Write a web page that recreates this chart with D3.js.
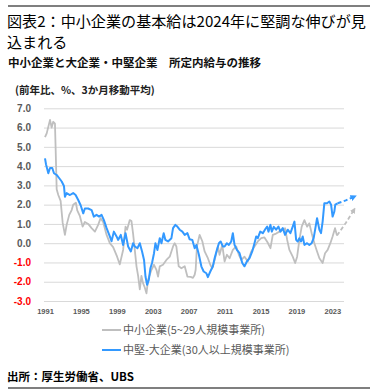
<!DOCTYPE html>
<html lang="ja">
<head>
  <meta charset="utf-8">
  <title>図表2</title>
  <script src="https://cdn.jsdelivr.net/npm/d3@7"></script>
  <style type="text/css">
    body{ margin:0; background:#fff; }
    text{ font-family: "Noto Sans CJK JP", "Noto Sans", sans-serif; }
    .tick text{ font-family: "Liberation Sans", Arial, sans-serif; font-weight: bold; }
  </style>
</head>
<body>
<script type="text/javascript">

// small firms (5-29 employees), yoy %, 3 month moving average
var smallYears = [1991.0,1991.19,1991.56,1991.74,1991.92,1992.11,1992.19,1992.30,1992.48,1992.74,1992.97,1993.22,1993.41,1993.70,1993.97,1994.14,1994.44,1994.59,1994.89,1995.19,1995.44,1995.81,1996.19,1996.56,1996.92,1997.19,1997.48,1997.86,1998.22,1998.59,1999.03,1999.33,1999.70,1999.97,2000.14,2000.44,2000.63,2000.81,2001.0,2001.19,2001.37,2001.56,2001.74,2001.92,2002.11,2002.30,2002.48,2002.86,2003.14,2003.41,2003.59,2003.78,2004.14,2004.52,2004.89,2005.26,2005.44,2005.63,2005.89,2006.19,2006.56,2006.86,2007.22,2007.48,2007.67,2007.78,2007.92,2008.22,2008.52,2008.78,2009.14,2009.41,2009.63,2009.89,2010.26,2010.44,2010.74,2011.0,2011.26,2011.56,2011.92,2012.30,2012.59,2012.86,2013.22,2013.59,2013.97,2014.33,2014.70,2015.08,2015.44,2015.78,2016.11,2016.37,2016.74,2017.11,2017.48,2017.74,2017.97,2018.22,2018.59,2018.86,2019.08,2019.33,2019.59,2019.89,2020.19,2020.44,2020.70,2021.0,2021.30,2021.56,2021.92,2022.19,2022.48,2022.78,2023.03,2023.30,2023.52];
var smallValues = [5.5,5.7,6.4,6.0,6.3,6.2,4.8,2.8,2.5,2.2,1.05,0.43,0.95,1.47,1.72,2.0,2.1,1.7,1.4,0.86,1.1,1.0,0.78,0.6,0.95,1.3,1.1,0.43,0.0,-0.2,-0.7,-1.1,-0.35,0.86,0.7,1.2,1.15,0.5,-0.35,-1.2,-1.7,-2.4,-1.7,-2.07,-2.3,-2.6,-1.9,-1.38,-1.12,-1.38,-1.73,-1.2,-1.12,-0.87,-0.7,-0.17,0.0,-0.17,-1.2,-1.3,-1.2,-1.73,-1.75,-1.8,-1.64,-1.38,-0.17,0.43,0.1,-0.43,-0.78,-1.12,-1.3,-0.87,-0.17,-0.6,-0.09,-0.95,-0.6,-0.78,-0.35,-0.17,-0.6,-0.87,-0.7,-0.95,-0.43,-0.17,0.09,0.26,0.3,0.05,-0.26,0.43,0.5,0.6,0.7,0.78,0.17,-0.35,-0.7,-1.03,-0.7,0.17,0.86,1.2,0.86,1.03,0.52,0.0,-0.43,-0.78,-1.03,-0.52,-0.35,0.0,0.35,0.78,0.4];
var smallForecastYears = [2023.52, 2024.5, 2025.4];
var smallForecastValues = [0.4, 1.05, 1.72];

// mid/large firms (30+ employees)
var largeYears = [1991.0,1991.11,1991.37,1991.56,1991.81,1992.0,1992.30,1992.59,1992.86,1993.11,1993.22,1993.41,1993.78,1994.14,1994.41,1994.70,1994.97,1995.26,1995.44,1995.81,1996.19,1996.44,1996.74,1997.03,1997.30,1997.56,1997.86,1998.22,1998.41,1998.67,1998.97,1999.14,1999.44,1999.70,1999.97,2000.26,2000.56,2000.81,2001.0,2001.30,2001.56,2001.81,2002.03,2002.19,2002.37,2002.56,2002.74,2002.92,2003.14,2003.30,2003.52,2003.78,2003.97,2004.22,2004.41,2004.70,2005.08,2005.26,2005.52,2005.74,2006.0,2006.30,2006.56,2006.86,2007.11,2007.41,2007.67,2007.86,2008.14,2008.41,2008.67,2008.97,2009.14,2009.41,2009.70,2009.89,2010.14,2010.37,2010.56,2010.81,2011.0,2011.26,2011.48,2011.74,2011.92,2012.11,2012.37,2012.67,2012.97,2013.22,2013.48,2013.78,2014.08,2014.33,2014.52,2014.70,2014.97,2015.26,2015.56,2015.74,2015.89,2016.11,2016.26,2016.48,2016.74,2017.0,2017.22,2017.48,2017.74,2018.03,2018.33,2018.59,2018.78,2018.97,2019.14,2019.33,2019.52,2019.70,2019.89,2020.19,2020.44,2020.70,2020.92,2021.08,2021.30,2021.56,2021.74,2021.92,2022.11,2022.41,2022.67,2022.86,2023.03,2023.22,2023.33,2023.59];
var largeValues = [4.4,4.1,3.63,3.9,3.9,3.63,3.54,3.37,3.2,2.97,2.41,2.6,2.5,2.6,2.5,2.24,1.97,1.55,1.8,1.8,1.72,1.38,1.47,1.38,1.47,1.2,0.78,0.35,0.1,0.6,0.35,0.17,0.43,-0.09,0.52,-0.17,-0.43,0.0,-0.17,-0.26,0.0,-0.43,-0.87,-1.73,-2.16,-1.9,-1.3,-1.03,-0.52,0.0,-0.35,0.26,0.0,0.52,0.17,0.09,0.26,0.78,0.95,0.86,0.7,0.6,0.43,0.52,0.2,0.17,-0.26,-0.09,-0.6,-1.2,-1.47,-1.56,-1.76,-1.47,-1.2,-0.78,-0.35,0.0,0.09,-0.17,-0.17,0.0,-0.09,0.09,0.52,-0.09,-0.35,-0.52,-1.03,-1.2,-0.95,-0.78,-0.43,0.0,0.35,0.26,0.6,0.52,0.75,0.86,0.6,0.95,0.6,0.85,0.7,0.86,0.6,0.78,0.43,0.7,0.52,0.86,1.12,0.17,0.09,0.26,0.09,0.35,-0.09,0.0,-0.09,0.0,0.26,0.69,1.3,0.69,0.52,1.12,2.07,2.07,2.16,2.0,1.38,1.64,2.0,2.07];
var largeForecastYears = [2023.59, 2024.5, 2025.4];
var largeForecastValues = [2.07, 2.22, 2.41];

var yTicks = [-3, -2, -1, 0, 1, 2, 3, 4, 5, 6, 7];
var xTicks = [1991, 1995, 1999, 2003, 2007, 2011, 2015, 2019, 2023];
var legendLabels = ["中小企業(5~29人規模事業所)", "中堅-大企業(30人以上規模事業所)"];

var width = 380;
var height = 392;

var svg = d3.select("body")
    .append("svg")
    .attr("width", width)
    .attr("height", height);

// rules + titles
svg.append("line").attr("x1", 8).attr("x2", 370).attr("y1", 6).attr("y2", 6)
    .attr("stroke", "#000").attr("stroke-width", 1.2);
svg.append("line").attr("x1", 8).attr("x2", 370).attr("y1", 388).attr("y2", 388)
    .attr("stroke", "#000").attr("stroke-width", 1.2);

svg.append("text").attr("x", 7).attr("y", 27)
    .attr("font-size", 15.1).attr("fill", "#000")
    .text("図表2：中小企業の基本給は2024年に堅調な伸びが見");
svg.append("text").attr("x", 7).attr("y", 48)
    .attr("font-size", 15.1).attr("fill", "#000")
    .text("込まれる");
svg.append("text").attr("x", 8).attr("y", 67)
    .attr("font-size", 11.5).attr("font-weight", "bold").attr("fill", "#111")
    .text("中小企業と大企業・中堅企業　所定内給与の推移");
svg.append("text").attr("x", 15).attr("y", 94)
    .attr("font-size", 10.5).attr("font-weight", "bold").attr("fill", "#222")
    .text("(前年比、%、3か月移動平均)");

var xScale = d3.scaleLinear().domain([1991, 2024.3]).range([45, 344]);
var yScale = d3.scaleLinear().domain([-3, 7]).range([301, 108.3]);

// y axis with gridlines
var yAxis = svg.append("g")
    .attr("transform", "translate(44,0)")
    .call(d3.axisLeft(yScale)
        .tickValues(yTicks)
        .tickSize(-300)
        .tickPadding(13)
        .tickFormat(function(d){ return d.toFixed(1); }));
yAxis.select(".domain").remove();
yAxis.selectAll(".tick line").attr("stroke", "#d9d9d9").attr("stroke-width", 1);
yAxis.selectAll(".tick text")
    .attr("font-size", 10)
    .attr("fill", function(d){ return d < 0 ? "#ff0000" : "#595959"; });

var xAxis = svg.append("g")
    .attr("transform", "translate(0,301)")
    .call(d3.axisBottom(xScale)
        .tickValues(xTicks)
        .tickSize(0)
        .tickPadding(8)
        .tickFormat(d3.format("d")));
xAxis.select(".domain").remove();
xAxis.selectAll(".tick text").attr("font-size", 7.5).attr("fill", "#595959");

// arrow heads for the forecast part
var defs = svg.append("defs");
function arrow(id, color){
    defs.append("marker")
        .attr("id", id)
        .attr("viewBox", "0 0 10 10")
        .attr("refX", 5).attr("refY", 5)
        .attr("markerWidth", 3.2).attr("markerHeight", 3.2)
        .attr("orient", "auto")
        .append("path")
        .attr("d", "M0,0 L10,5 L0,10 z")
        .attr("fill", color);
}
arrow("arrowGray", "#bfbfbf");
arrow("arrowBlue", "#3399ff");

function toPoints(years, values){
    return years.map(function(t, i){ return {t: t, v: values[i]}; });
}

var line = d3.line()
    .x(function(d){ return xScale(d.t); })
    .y(function(d){ return yScale(d.v); });

svg.append("path")
    .datum(toPoints(smallYears, smallValues))
    .attr("d", line)
    .attr("fill", "none").attr("stroke", "#bfbfbf").attr("stroke-width", 1.8)
    .attr("stroke-linejoin", "round");
svg.append("path")
    .datum(toPoints(smallForecastYears, smallForecastValues))
    .attr("d", line)
    .attr("fill", "none").attr("stroke", "#bfbfbf").attr("stroke-width", 1.8)
    .attr("stroke-dasharray", "4,2.5")
    .attr("marker-end", "url(#arrowGray)");

svg.append("path")
    .datum(toPoints(largeYears, largeValues))
    .attr("d", line)
    .attr("fill", "none").attr("stroke", "#3399ff").attr("stroke-width", 2)
    .attr("stroke-linejoin", "round");
svg.append("path")
    .datum(toPoints(largeForecastYears, largeForecastValues))
    .attr("d", line)
    .attr("fill", "none").attr("stroke", "#3399ff").attr("stroke-width", 2)
    .attr("stroke-dasharray", "4,2.5")
    .attr("marker-end", "url(#arrowBlue)");

// legend
var legendColors = ["#bfbfbf", "#3399ff"];
var legend = svg.selectAll(".legend")
    .data(legendLabels)
    .enter()
    .append("g")
    .attr("class", "legend")
    .attr("transform", function(d, i){ return "translate(102," + (330 + i * 20) + ")"; });
legend.append("line")
    .attr("x1", 0).attr("x2", 19)
    .attr("stroke", function(d, i){ return legendColors[i]; })
    .attr("stroke-width", 2);
legend.append("text")
    .attr("x", 21).attr("y", 4)
    .attr("font-size", 11).attr("fill", "#595959")
    .text(function(d){ return d; });

svg.append("text").attr("x", 7).attr("y", 381)
    .attr("font-size", 11.5).attr("font-weight", "bold").attr("fill", "#000")
    .text("出所：厚生労働省、UBS");

</script>
</body>
</html>
